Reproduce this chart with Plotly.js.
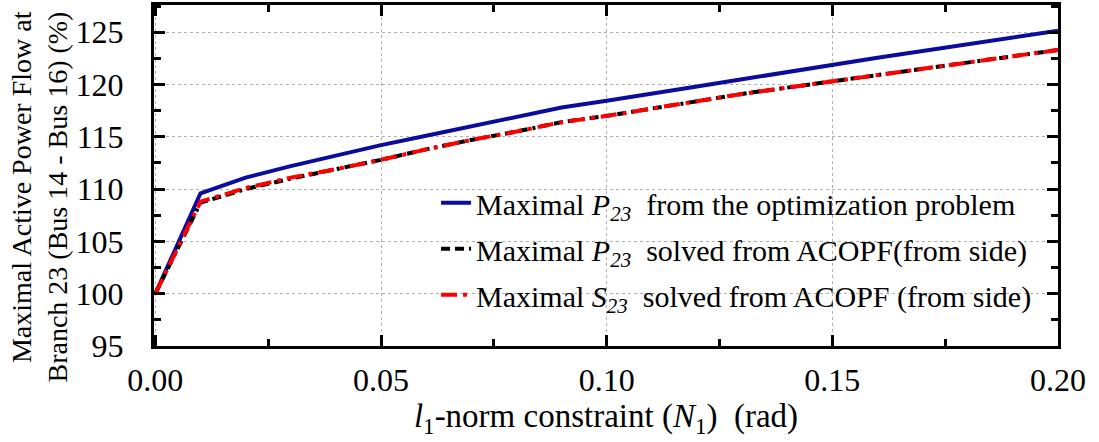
<!DOCTYPE html>
<html>
<head>
<meta charset="utf-8">
<script src="https://cdn.plot.ly/plotly-3.0.1.min.js"></script>
<style>html,body{margin:0;padding:0;background:#fff;}#chart{width:1099px;height:442px;}</style>
</head>
<body>
<div id="chart"></div>
<script>
// l1-norm constraint N1 (rad)
const xN1 = [0, 0.01, 0.02, 0.03, 0.04, 0.05, 0.06, 0.07, 0.08, 0.09, 0.10,
             0.11, 0.12, 0.13, 0.14, 0.15, 0.16, 0.17, 0.18, 0.19, 0.20];
// Maximal P23 from the optimization problem (%)
const pOpt = [100, 109.6, 111.1, 112.2, 113.2, 114.2, 115.1, 116.0, 116.9, 117.8, 118.45,
              119.1, 119.8, 120.5, 121.2, 121.9, 122.55, 123.2, 123.85, 124.5, 125.15];
// Maximal P23 solved from ACOPF (from side) (%)
const pAcopf = [100, 108.7, 110.0, 111.0, 111.9, 112.8, 113.8, 114.7, 115.5, 116.4, 117.0,
                117.7, 118.4, 119.1, 119.7, 120.3, 120.9, 121.5, 122.1, 122.7, 123.3];
// Maximal S23 solved from ACOPF (from side) (%)
const sAcopf = [100, 108.8, 110.1, 111.1, 111.9, 112.8, 113.8, 114.7, 115.5, 116.4, 117.0,
                117.7, 118.4, 119.1, 119.7, 120.3, 120.9, 121.5, 122.1, 122.7, 123.3];

const seriesNames = [
  'Maximal <i>P</i><sub><i>23</i></sub>  from the optimization problem',
  'Maximal <i>P</i><sub><i>23</i></sub>  solved from ACOPF(from side)',
  'Maximal <i>S</i><sub><i>23</i></sub>  solved from ACOPF (from side)'
];
const xTickVals = [0, 0.05, 0.10, 0.15, 0.20];
const xTickText = ['0.00', '0.05', '0.10', '0.15', '0.20'];
const yTickVals = [95, 100, 105, 110, 115, 120, 125];
const xTitle = '<i>l</i><sub>1</sub>-norm constraint (<i>N</i><sub>1</sub>)  (rad)';
const yTitle = 'Maximal Active Power Flow at<br>Branch 23 (Bus 14 - Bus 16) (%)';

const font = 'Liberation Serif';

const traces = [
  {x: xN1, y: pOpt, name: seriesNames[0], legendgroup: 'g1', mode: 'lines',
   line: {color: '#0c0c9c', width: 4}},
  {x: xN1, y: pAcopf, name: seriesNames[1], legendgroup: 'g2', mode: 'lines',
   line: {color: '#000000', width: 4, dash: '9px,5px,9px,5px,9px,5px,3px,5px'}},
  {x: xN1, y: sAcopf, name: seriesNames[2], legendgroup: 'g3', mode: 'lines',
   line: {color: '#ff0000', width: 4, dash: '16px,6px,4px,6px'}}
];

const axisCommon = {
  showline: true, linecolor: '#000', linewidth: 3, mirror: 'ticks',
  ticks: 'inside', ticklen: 11, tickwidth: 3, tickcolor: '#000',
  showgrid: true, gridcolor: '#b0b0b0', gridwidth: 1, griddash: 'dot',
  zeroline: false,
  tickfont: {family: font, size: 32, color: '#000'},
  minor: {ticks: 'inside', ticklen: 7, tickwidth: 3, tickcolor: '#000', showgrid: false}
};

const layout = {
  width: 1099, height: 442,
  margin: {l: 154, r: 41, t: 5, b: 96},
  paper_bgcolor: '#fff', plot_bgcolor: '#fff',
  font: {family: font, color: '#000', size: 24},
  xaxis: Object.assign({}, axisCommon, {
    range: [-0.0003, 0.2], tickvals: xTickVals, ticktext: xTickText,
    ticklabelstandoff: 4,
    minor: Object.assign({}, axisCommon.minor, {dtick: 0.025, tick0: 0}),
    title: {text: xTitle, font: {family: font, size: 33, color: '#000'}, standoff: 2}
  }),
  yaxis: Object.assign({}, axisCommon, {
    range: [95, 127.6], tickvals: yTickVals,
    ticklabelstandoff: 21,
    minor: Object.assign({}, axisCommon.minor, {dtick: 2.5, tick0: 95})
  }),
  annotations: [{
    text: yTitle, textangle: -90, align: 'right', showarrow: false,
    xref: 'paper', yref: 'paper', x: -0.1272, y: 0.4355,
    xanchor: 'center', yanchor: 'middle',
    font: {family: font, size: 28, color: '#000'}
  }],
  showlegend: true,
  legend: {
    x: 0.312, y: 0.496, xanchor: 'left', yanchor: 'top',
    bgcolor: 'rgba(0,0,0,0)', borderwidth: 0,
    font: {family: font, size: 30, color: '#000'},
    tracegroupgap: 4
  }
};

Plotly.newPlot('chart', traces, layout, {displayModeBar: false, staticPlot: true});
</script>
</body>
</html>
